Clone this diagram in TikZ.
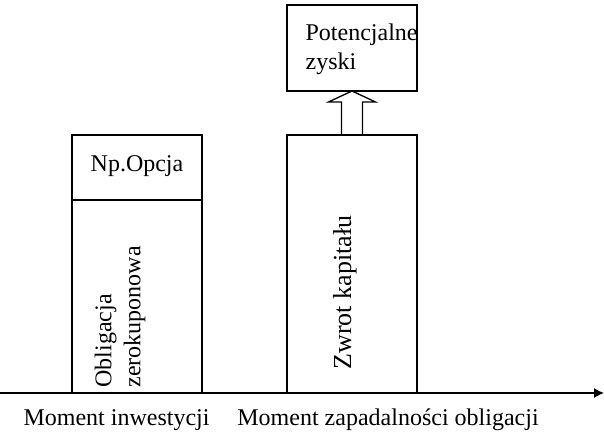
\documentclass[tikz,border=0pt]{standalone}
\usepackage{fontspec}
\setmainfont{Liberation Serif}
\usetikzlibrary{calc,arrows.meta}

\begin{document}
\begin{tikzpicture}[x=1pt,y=1pt,line width=1.3pt]
  \tikzset{box/.style={draw,rectangle,inner sep=0pt,outer sep=0pt,anchor=south west},
           lbl/.style={font=\fontsize{24}{29}\selectfont,inner sep=0pt}}
  \useasboundingbox (0,0) rectangle (604,431);
  % boxes
  \node[box,minimum width=130,minimum height=193] (bond) at (72,38) {};
  \node[box,minimum width=130,minimum height=65] (option) at (bond.north west) {};
  \node[box,minimum width=130,minimum height=258] (capital) at (287,38) {};
  \node[box,minimum width=130,minimum height=86] (gains) at (287,340) {};
  % texts
  \node[lbl] (optiontxt) at ($(option.center)+(0,1)$) {Np.Opcja};
  \node[lbl,rotate=90,anchor=north west,align=left] (bondtxt) at (94,43) {Obligacja\\zerokuponowa};
  \node[lbl,font=\fontsize{26}{30}\selectfont,rotate=90,anchor=base west] (capitaltxt) at (351,61) {Zwrot kapitału};
  \node[lbl,anchor=north west,align=left] (gainstxt) at (305,408) {Potencjalne\\zyski};
  % hollow arrow
  \coordinate (tip) at (capital.north |- gains.south);
  \draw ($(capital.north)+(-10.5,0)$) -- ($(tip)+(-10.5,-11)$)
     -- ($(tip)+(-23.5,-11)$) -- (tip) -- ($(tip)+(23.5,-11)$)
     -- ($(tip)+(10.5,-11)$) -- ($(capital.north)+(10.5,0)$);
  % time axis
  \coordinate (t0) at (0,38);
  \coordinate (t1) at (604,38);
  \draw[-{Latex[length=10pt,width=10pt]}] (t0) -- (t1);
  \node[lbl,anchor=base] (start) at (116.5,6) {Moment inwestycji};
  \node[lbl,anchor=base] (maturity) at (388,6) {Moment zapadalności obligacji};
\end{tikzpicture}
\end{document}
